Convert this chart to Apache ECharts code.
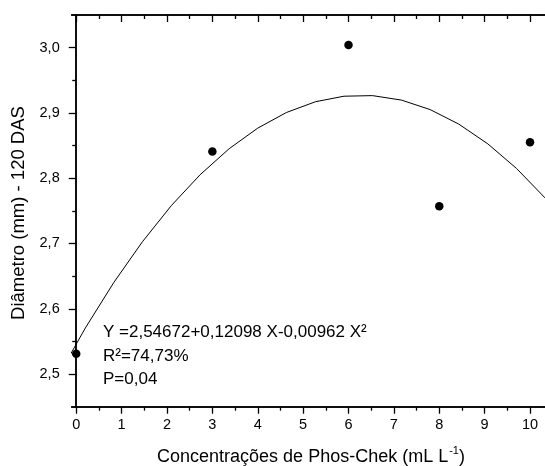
<!DOCTYPE html>
<html>
<head>
<meta charset="utf-8">
<script src="https://cdn.jsdelivr.net/npm/echarts@6/dist/echarts.min.js"></script>
<style>
  html, body { margin: 0; padding: 0; background: #fff; }
  #chart { width: 545px; height: 466px; }
</style>
</head>
<body>
<div id="chart"></div>
<script>
// Observed diameters (mm) at 120 DAS for each Phos-Chek concentration (mL L-1)
const doses = [0, 3, 6, 8, 10];
const diameters = [2.531, 2.841, 3.004, 2.757, 2.855];

// Fitted quadratic regression curve, sampled along the concentration axis
const fitX = [-0.43, 0.20, 0.83, 1.46, 2.10, 2.73, 3.37, 4.00, 4.63, 5.27, 5.90,
              6.53, 7.17, 7.80, 8.43, 9.07, 9.70, 10.33, 10.97];
const fitY = [2.4929, 2.5705, 2.6405, 2.7028, 2.7584, 2.8053, 2.8452, 2.8767, 2.9006,
              2.9171, 2.9256, 2.9265, 2.9196, 2.9051, 2.8829, 2.8526, 2.8151, 2.7699, 2.7162];

// Axis ticks and labels
const xMajorTicks = [0, 1, 2, 3, 4, 5, 6, 7, 8, 9, 10];
const xMinorTicks = [0.5, 1.5, 2.5, 3.5, 4.5, 5.5, 6.5, 7.5, 8.5, 9.5];
const yMajorTicks = [2.5, 2.6, 2.7, 2.8, 2.9, 3.0];
const yMinorTicks = [2.55, 2.65, 2.75, 2.85, 2.95];

// Regression statistics
const equationText = 'Y =2,54672+0,12098 X-0,00962 X²';
const r2Text = 'R²=74,73%';
const pText = 'P=0,04';

const FONT = "Liberation Sans";
const X_MIN = -0.1, X_MAX = 10.33;
const Y_MIN = 2.45, Y_MAX = 3.05;
const TICK_FONT = 14.5;

const chart = echarts.init(document.getElementById('chart'), null, { renderer: 'canvas' });

const axisLine = { show: true, lineStyle: { color: '#000', width: 1.5 } };
const tickRich = { n: { fontFamily: FONT, fontSize: TICK_FONT, color: '#000' } };

function xAxisDef(position, ticks, len, inside, labels) {
  return {
    type: 'value', position: position, min: X_MIN, max: X_MAX,
    axisLine: axisLine,
    splitLine: { show: false },
    axisTick: { show: true, inside: inside, length: len, customValues: ticks,
                lineStyle: { color: '#000', width: 1.3 } },
    axisLabel: labels ? {
      show: true, customValues: ticks, margin: 11, color: '#000',
      fontFamily: FONT, fontSize: TICK_FONT, rich: tickRich,
      formatter: v => '{n|' + String(v) + '}'
    } : { show: false }
  };
}

function yAxisDef(ticks, len, labels) {
  return {
    type: 'value', position: 'left', min: Y_MIN, max: Y_MAX,
    axisLine: axisLine,
    splitLine: { show: false },
    axisTick: { show: true, inside: false, length: len, customValues: ticks,
                lineStyle: { color: '#000', width: 1.3 } },
    axisLabel: labels ? {
      show: true, customValues: ticks, margin: 12, color: '#000',
      fontFamily: FONT, fontSize: TICK_FONT, rich: tickRich,
      formatter: v => '{n|' + v.toFixed(1).replace('.', ',') + '}'
    } : { show: false }
  };
}

const option = {
  backgroundColor: '#fff',
  animation: false,
  textStyle: { fontFamily: FONT, fontSize: TICK_FONT, color: '#000' },
  grid: { left: 71.7, top: 15, right: 0, bottom: 59.3, containLabel: false },
  xAxis: [
    xAxisDef('bottom', xMajorTicks, 7, false, true),
    xAxisDef('bottom', xMinorTicks, 4, false, false),
    xAxisDef('top', xMajorTicks, 7, true, false),
    xAxisDef('top', xMinorTicks, 4, true, false)
  ],
  yAxis: [
    yAxisDef(yMajorTicks, 7.5, true),
    yAxisDef(yMinorTicks, 4, false)
  ],
  series: [
    {
      type: 'line',
      xAxisIndex: 0, yAxisIndex: 0,
      data: fitX.map((x, i) => [x, fitY[i]]),
      showSymbol: false,
      smooth: false,
      clip: true,
      lineStyle: { color: '#000', width: 1 },
      z: 2
    },
    {
      type: 'scatter',
      xAxisIndex: 0, yAxisIndex: 0,
      data: doses.map((x, i) => [x, diameters[i]]),
      symbol: 'circle',
      symbolSize: 8.5,
      itemStyle: { color: '#000', opacity: 1 },
      clip: false,
      z: 3
    }
  ],
  graphic: [
    {
      type: 'text', left: 103, top: 324,
      style: { text: equationText, font: '17px ' + FONT, fill: '#000' }
    },
    {
      type: 'text', left: 103, top: 348,
      style: { text: r2Text, font: '17px ' + FONT, fill: '#000' }
    },
    {
      type: 'text', left: 103, top: 371,
      style: { text: pText, font: '17px ' + FONT, fill: '#000' }
    },
    {
      // x-axis title with superscript exponent
      type: 'text', x: 311, y: 456,
      style: {
        text: '{t|Concentrações de Phos-Chek (mL L}{s|-1}{t|)}',
        align: 'center', verticalAlign: 'middle',
        rich: {
          t: { font: '18px ' + FONT, fill: '#000', verticalAlign: 'bottom' },
          s: { font: '11px ' + FONT, fill: '#000', verticalAlign: 'top', padding: [0, 0, 10, 1] }
        }
      }
    },
    {
      type: 'text', x: 19, y: 213, rotation: Math.PI / 2,
      style: {
        text: 'Diâmetro (mm) - 120 DAS',
        font: '18.5px ' + FONT, fill: '#000',
        align: 'center', verticalAlign: 'middle'
      }
    }
  ]
};

chart.setOption(option);
</script>
</body>
</html>
